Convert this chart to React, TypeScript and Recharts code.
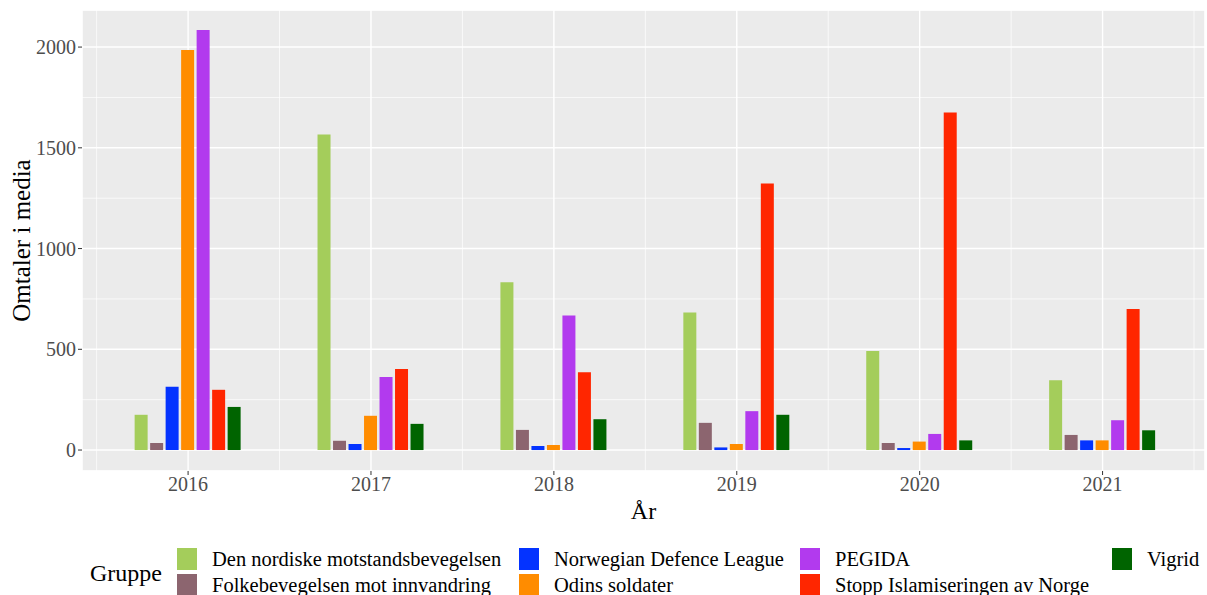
import { BarChart, Bar, XAxis, YAxis, CartesianGrid, Legend } from "recharts";

const years = [2016, 2017, 2018, 2019, 2020, 2021];

const groups = [
  "Den nordiske motstandsbevegelsen",
  "Folkebevegelsen mot innvandring",
  "Norwegian Defence League",
  "Odins soldater",
  "PEGIDA",
  "Stopp Islamiseringen av Norge",
  "Vigrid",
];

const colors = ["#a4cd5b", "#8c656f", "#0433ff", "#ff8c00", "#b23aee", "#ff2600", "#006400"];

const dnm = [175, 1566, 833, 683, 492, 347];
const fmi = [35, 46, 100, 135, 35, 75];
const ndl = [314, 30, 20, 13, 10, 48];
const odins = [1985, 170, 25, 30, 42, 48];
const pegida = [2085, 362, 668, 193, 80, 148];
const sian = [299, 402, 386, 1323, 1675, 700];
const vigrid = [214, 130, 153, 175, 48, 98];

const series = [dnm, fmi, ndl, odins, pegida, sian, vigrid];

const yTicks = [0, 500, 1000, 1500, 2000];
const yMinor = [250, 750, 1250, 1750];
const xMinor = [2015.5, 2016.5, 2017.5, 2018.5, 2019.5, 2020.5, 2021.5];

const data = years.map((year, i) => {
  const row: Record<string, number> = { year };
  groups.forEach((g, j) => {
    row[g] = series[j][i];
  });
  return row;
});

const font = "'Liberation Serif', 'Times New Roman', serif";

function GroupLegend() {
  const cols = [177, 519, 800, 1112];
  return (
    <div style={{ position: "relative", width: 1207, height: 75, fontFamily: font }}>
      <div style={{ position: "absolute", left: 90, top: 40, fontSize: 24, color: "#000" }}>Gruppe</div>
      {groups.map((g, i) => {
        const col = Math.floor(i / 2);
        const row = i % 2;
        return (
          <div
            key={g}
            style={{
              position: "absolute",
              left: cols[col],
              top: 27 + row * 26,
              display: "flex",
              alignItems: "center",
              height: 24,
            }}
          >
            <div style={{ width: 20, height: 22, background: colors[i], marginRight: 15 }} />
            <span style={{ fontSize: 20.5, color: "#000", whiteSpace: "nowrap" }}>{g}</span>
          </div>
        );
      })}
    </div>
  );
}

export default function App() {
  return (
    <div style={{ position: "absolute", left: 0, top: 0, width: 1207, height: 595, overflow: "hidden" }}>
      <BarChart
        width={1207}
        height={595}
        data={data}
        margin={{ top: 10, right: 2, left: 0, bottom: 0 }}
        barSize={13}
        barGap={2.5}
        style={{ fontFamily: font }}
      >
        <CartesianGrid fill="#ebebeb" stroke="#ffffff" strokeWidth={1.4} />
        <CartesianGrid xAxisId="minor" yAxisId="minor" stroke="#ffffff" strokeWidth={0.7} />
        <XAxis
          dataKey="year"
          type="number"
          domain={[2015.42, 2021.56]}
          allowDataOverflow
          ticks={years}
          interval={0}
          axisLine={false}
          tickLine={{ stroke: "#333333" }}
          tickSize={4}
          tick={{ fill: "#4d4d4d", fontSize: 20 }}
          height={49}
          label={{ value: "År", position: "insideBottom", offset: 1, fill: "#000", fontSize: 24 }}
        />
        <XAxis
          xAxisId="minor"
          dataKey="year"
          type="number"
          domain={[2015.42, 2021.56]}
          allowDataOverflow
          ticks={xMinor}
          hide
        />
        <YAxis
          domain={[-104, 2184]}
          allowDataOverflow
          ticks={yTicks}
          interval={0}
          axisLine={false}
          tickLine={{ stroke: "#333333" }}
          tickSize={4}
          tick={{ fill: "#4d4d4d", fontSize: 20 }}
          width={82}
          label={{
            value: "Omtaler i media",
            angle: -90,
            position: "insideLeft",
            offset: 21,
            style: { textAnchor: "middle" },
            fill: "#000",
            fontSize: 25,
          }}
        />
        <YAxis
          yAxisId="minor"
          domain={[-104, 2184]}
          allowDataOverflow
          ticks={yMinor}
          hide
        />
        <Legend verticalAlign="bottom" content={() => <GroupLegend />} wrapperStyle={{ left: 0, width: 1207, height: 75 }} />
        {groups.map((g, i) => (
          <Bar key={g} dataKey={g} fill={colors[i]} isAnimationActive={false} />
        ))}
      </BarChart>
    </div>
  );
}
